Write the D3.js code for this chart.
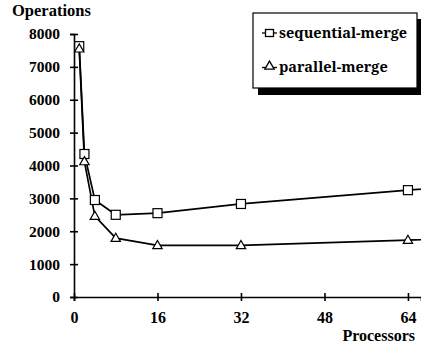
<!DOCTYPE html>
<html>
<head>
<meta charset="utf-8">
<script src="https://cdn.jsdelivr.net/npm/d3@7"></script>
<style>
  body { margin: 0; background: #fff; }
  svg { display: block; }
</style>
</head>
<body>
<figure id="chart" style="margin:0"></figure>
<script>
// processors on the x axis, operations per series
const processors = [1, 2, 4, 8, 16, 32, 64, 128];
const sequentialMerge = [7630, 4350, 2950, 2500, 2550, 2830, 3250, 4120];
const parallelMerge = [7550, 4120, 2460, 1790, 1570, 1570, 1730, 2050];
const seriesNames = ["sequential-merge", "parallel-merge"];
const xTicks = [0, 16, 32, 48, 64];
const yTicks = [0, 1000, 2000, 3000, 4000, 5000, 6000, 7000, 8000];

const width = 421, height = 344;
const serif = "Liberation Serif";

const svg = d3.select("figure#chart")
  .append("svg")
  .attr("width", width)
  .attr("height", height);

const x = d3.scaleLinear().domain([0, 66.5]).range([74, 421]);
const y = d3.scaleLinear().domain([0, 8000]).range([297, 34]);

// y axis, ticks cross the line
const yAxis = svg.append("g")
  .attr("transform", "translate(" + x(0) + ",0)")
  .call(d3.axisLeft(y).tickValues(yTicks).tickFormat(d3.format("d"))
    .tickSizeOuter(0).tickSize(4).tickPadding(10));
yAxis.attr("font-family", serif).attr("font-size", 15.5).attr("font-weight", "bold");
yAxis.selectAll(".tick line").attr("x1", -4).attr("x2", 4);

const xAxis = svg.append("g")
  .attr("transform", "translate(0," + y(0) + ")")
  .call(d3.axisBottom(x).tickValues(xTicks).tickFormat(d3.format("d"))
    .tickSizeOuter(0).tickSize(4).tickPadding(11));
xAxis.attr("font-family", serif).attr("font-size", 16).attr("font-weight", "bold");
xAxis.selectAll(".tick line").attr("y1", -4).attr("y2", 4);

svg.selectAll(".domain, .tick line").attr("stroke", "#000").attr("stroke-width", 1.6);

svg.append("text")
  .attr("x", 12)
  .attr("y", 16)
  .attr("font-family", serif)
  .attr("font-weight", "bold")
  .attr("font-size", 16.5)
  .text("Operations");

svg.append("text")
  .attr("x", 415)
  .attr("y", 341)
  .attr("text-anchor", "end")
  .attr("font-family", serif)
  .attr("font-weight", "bold")
  .attr("font-size", 16)
  .text("Processors");

const line = d3.line()
  .x((d, i) => x(processors[i]))
  .y(d => y(d));

const triangle = d3.symbol().type(d3.symbolTriangle).size(38);

[sequentialMerge, parallelMerge].forEach(series => {
  svg.append("path")
    .datum(series)
    .attr("d", line)
    .attr("fill", "none")
    .attr("stroke", "#000")
    .attr("stroke-width", 1.7);
});

svg.selectAll("rect.seq")
  .data(sequentialMerge)
  .enter()
  .append("rect")
  .attr("class", "seq")
  .attr("x", (d, i) => x(processors[i]) - 4.5)
  .attr("y", d => y(d) - 4.5)
  .attr("width", 9)
  .attr("height", 9)
  .attr("fill", "#fff")
  .attr("stroke", "#000")
  .attr("stroke-width", 1.2);

svg.selectAll("path.par")
  .data(parallelMerge)
  .enter()
  .append("path")
  .attr("class", "par")
  .attr("d", triangle)
  .attr("transform", (d, i) => "translate(" + x(processors[i]) + "," + (y(d) + 0.5) + ")")
  .attr("fill", "#fff")
  .attr("stroke", "#000")
  .attr("stroke-width", 1.2);

// legend with drop shadow
const legend = svg.append("g");
legend.append("rect")
  .attr("x", 258).attr("y", 19).attr("width", 164).attr("height", 76)
  .attr("fill", "#000");
legend.append("rect")
  .attr("x", 253).attr("y", 13).attr("width", 164).attr("height", 75)
  .attr("fill", "#fff").attr("stroke", "#000").attr("stroke-width", 1.2);

legend.append("line")
  .attr("x1", 262).attr("x2", 277).attr("y1", 33).attr("y2", 33)
  .attr("stroke", "#000").attr("stroke-width", 1.3);
legend.append("rect")
  .attr("x", 265.5).attr("y", 29.5).attr("width", 8).attr("height", 7)
  .attr("fill", "#fff").attr("stroke", "#000").attr("stroke-width", 1.3);
legend.append("line")
  .attr("x1", 262).attr("x2", 277).attr("y1", 67.5).attr("y2", 67.5)
  .attr("stroke", "#000").attr("stroke-width", 1.3);
legend.append("path")
  .attr("d", triangle)
  .attr("transform", "translate(269.5,66.5)")
  .attr("fill", "#fff").attr("stroke", "#000").attr("stroke-width", 1.3);

legend.selectAll("text.lab")
  .data(seriesNames)
  .enter()
  .append("text")
  .attr("class", "lab")
  .attr("x", 279)
  .attr("y", (d, i) => 38 + i * 34)
  .attr("font-family", "Noto Serif")
  .attr("font-weight", "bold")
  .attr("font-size", 14.5)
  .text(d => d);
</script>
</body>
</html>
